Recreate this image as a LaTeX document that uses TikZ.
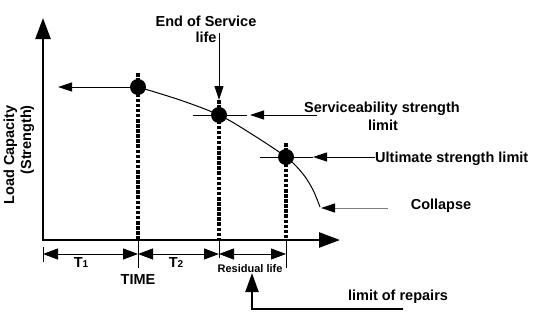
\documentclass[tikz,border=0pt]{standalone}
\usepackage{fontspec}
\setmainfont{Liberation Sans}
\usetikzlibrary{arrows.meta}
\begin{document}
\begin{tikzpicture}[x=1pt,y=-1pt,
  lbl/.style={font=\fontsize{14.5}{16}\selectfont\bfseries, inner sep=0pt},
  smalllbl/.style={font=\fontsize{11}{12}\selectfont\bfseries, inner sep=0pt},
  axis/.style={line width=2.5pt, -{Triangle[length=21pt,width=15pt]}},
  thinline/.style={line width=1pt},
  arr/.style={line width=1pt, -{Triangle[length=14pt,width=9pt]}},
  dimarr/.style={line width=0.8pt, {Triangle[length=15pt,width=11pt]}-{Triangle[length=15pt,width=11pt]}},
  dotline/.style={line width=3.2pt, dash pattern=on 3.6pt off 1.5pt},
  dot/.style={circle, fill=black, minimum size=16pt, inner sep=0pt},
]
\useasboundingbox (0,0) rectangle (540,319);

% axes
\coordinate (O) at (43,240);
\coordinate (Oy) at (43,241.25);
\coordinate (Ox) at (41.75,240);
\coordinate (Ytop) at (43,18);
\coordinate (Xend) at (340,240);
\draw[axis] (Oy) -- (Ytop);
\draw[axis] (Ox) -- (Xend);

% dotted verticals
\coordinate (D1t) at (138,73);  \coordinate (D1b) at (138,240);
\coordinate (D2t) at (219,100); \coordinate (D2b) at (219,240);
\coordinate (D3t) at (286,143); \coordinate (D3b) at (286,240);
\draw[dotline] (D1t) -- (D1b);
\draw[dotline] (D2t) -- (D2b);
\draw[dotline] (D3t) -- (D3b);

% curve
\coordinate (C1) at (138,87);
\coordinate (C2) at (219,115);
\coordinate (C3) at (286,157);
\coordinate (C4) at (320,207);
\draw[thinline] plot[smooth, tension=0.55] coordinates
  {(C1) (180,100) (C2) (250,133) (C3) (303,174) (313,190) (C4)};

% short horizontal lines through points
\coordinate (H2a) at (193,115); \coordinate (H2b) at (247,115);
\coordinate (H3a) at (260,157); \coordinate (H3b) at (313,157);
\draw[thinline] (H2a) -- (H2b);
\draw[thinline] (H3a) -- (H3b);

% points
\node[dot] (P1) at (C1) {};
\node[dot] (P2) at (C2) {};
\node[dot] (P3) at (C3) {};

% arrows to/from points
\coordinate (A1) at (58,87);
\draw[arr] (P1.center) -- (A1);

\coordinate (E1) at (219,33);
\coordinate (E2) at (219,100);
\draw[arr] (E1) -- (E2);

\coordinate (S1) at (317,115);
\coordinate (S2) at (250,115);
\draw[arr] (S1) -- (S2);

\coordinate (U1) at (375,157);
\coordinate (U2) at (313,157);
\draw[arr] (U1) -- (U2);

\coordinate (K1) at (388,208);
\coordinate (K2) at (321,208);
\draw[line width=1pt, draw=gray, -{Triangle[length=14pt,width=9pt,color=black]}] (K1) -- (K2);

% time ticks
\coordinate (T0a) at (43,247);  \coordinate (T0b) at (43,262);
\coordinate (T1a) at (138,240); \coordinate (T1b) at (138,268);
\coordinate (T2a) at (219,240); \coordinate (T2b) at (219,258);
\coordinate (T3a) at (286,240); \coordinate (T3b) at (286,268);
\draw[line width=0.8pt] (T0a) -- (T0b);
\draw[line width=0.8pt] (T1a) -- (T1b);
\draw[line width=0.8pt] (T2a) -- (T2b);
\draw[line width=0.8pt] (T3a) -- (T3b);

% dimension arrows
\coordinate (M0) at (43,254);
\coordinate (M1) at (138,254);
\coordinate (M2) at (219,254);
\coordinate (M3) at (286,254);
\draw[dimarr] (M0) -- (M1);
\draw[dimarr] (M1) -- (M2);
\draw[dimarr] (M2) -- (M3);

% limit of repairs arrow
\coordinate (R1) at (403,309);
\coordinate (R2) at (252,273);
\draw[line width=2pt, -{Triangle[length=19pt,width=13pt]}] (R1) -| (R2);

% labels
\node[lbl, anchor=base] (endsrv) at (206,26) {End of Service};
\node[lbl, anchor=base] (endlife) at (206,42) {life};
\node[lbl, anchor=base] (serv1) at (382,112) {Serviceability strength};
\node[lbl, anchor=base] (serv2) at (383,130) {limit};
\node[lbl, anchor=base west] (ult) at (375,162) {Ultimate strength limit};
\node[lbl, anchor=base] (coll) at (441,209) {Collapse};
\node[lbl, anchor=base] (rep) at (398,300) {limit of repairs};
\node[lbl, anchor=base] (time) at (138,284) {TIME};
\node[lbl, anchor=base] (t1) at (81,267) {T{\fontsize{10}{10}\selectfont 1}};
\node[lbl, anchor=base] (t2) at (176,267) {T{\fontsize{10}{10}\selectfont 2}};
\node[smalllbl, anchor=base] (resid) at (250,272) {Residual life};
\node[lbl, rotate=90, anchor=base east] (ylab1) at (14,105) {Load Capacity};
\node[lbl, rotate=90, anchor=base east] (ylab2) at (31,105) {(Strength)};
\end{tikzpicture}
\end{document}
